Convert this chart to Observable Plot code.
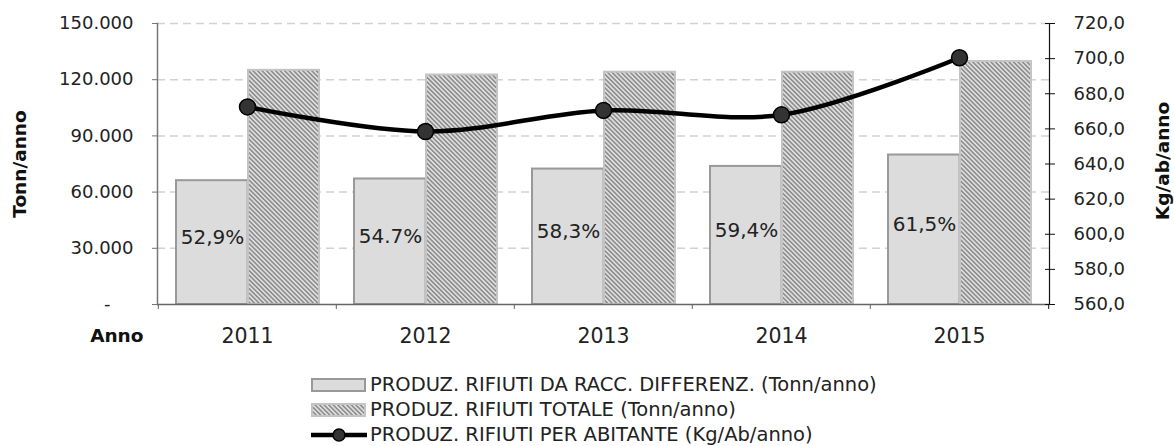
<!DOCTYPE html>
<html>
<head>
<meta charset="utf-8">
<script src="https://cdn.jsdelivr.net/npm/d3@7"></script>
<script src="https://cdn.jsdelivr.net/npm/@observablehq/plot@0.6"></script>
<style>
  html, body { margin: 0; padding: 0; background: #fff; }
  #wrap { position: relative; width: 1174px; height: 446px; font-family: "DejaVu Sans", Verdana, sans-serif; color: #222; }
  #legend { position: absolute; left: 311px; top: 372px; font-size: 19.5px; }
  .row { display: flex; align-items: center; height: 25px; white-space: nowrap; }
  .row svg { display: block; margin-right: 3px; }
</style>
</head>
<body>
<div id="wrap">
  <div id="chart"></div>
  <div id="legend"></div>
</div>
<script>
// ---- data ----
const years = ["2011", "2012", "2013", "2014", "2015"];
const raccDiff = [66100, 67000, 72300, 73700, 79800];          // Tonn/anno
const totale = [125000, 122500, 124000, 124000, 129700];        // Tonn/anno
const perAbitante = [672.5, 658.5, 670.5, 668.0, 700.5];        // Kg/ab/anno
const percentLabels = ["52,9%", "54.7%", "58,3%", "59,4%", "61,5%"];
const leftTicks = [0, 30000, 60000, 90000, 120000, 150000];
const rightTicks = [560, 580, 600, 620, 640, 660, 680, 700, 720];
const legendLabels = [
  "PRODUZ. RIFIUTI DA RACC. DIFFERENZ. (Tonn/anno)",
  "PRODUZ. RIFIUTI TOTALE (Tonn/anno)",
  "PRODUZ. RIFIUTI PER ABITANTE (Kg/Ab/anno)"
];

// secondary axis mapping onto the primary scale
const leftMax = 150000, rMin = 560, rMax = 720;
const toLeft = v => (v - rMin) / (rMax - rMin) * leftMax;
const fromLeft = v => rMin + v / leftMax * (rMax - rMin);

const data = years.map((year, i) => ({
  year, diff: raccDiff[i], tot: totale[i], pa: perAbitante[i], pct: percentLabels[i]
}));

const fmtLeft = d => d === 0 ? "-\u2007\u2007" : d3.format(",")(d).replace(/,/g, ".");
const fmtRight = d => d3.format(".1f")(Math.round(fromLeft(d) * 10) / 10).replace(".", ",");

const font = "DejaVu Sans, Verdana, sans-serif";

const svg = Plot.plot({
  width: 1174,
  height: 345,
  marginLeft: 157,
  marginRight: 125,
  marginTop: 23,
  marginBottom: 41,
  style: { fontFamily: font, fontSize: "18px", color: "#222", background: "white", overflow: "visible" },
  x: { type: "band", domain: years, padding: 0, axis: null },
  y: { domain: [0, leftMax], axis: null },
  marks: [
    Plot.ruleY(leftTicks.filter(d => d > 0), { stroke: "#d2d2d2", strokeWidth: 1.5, strokeDasharray: "8,5" }),
    Plot.barY(data, { x: "year", y: "diff", fill: "#dcdcdc", stroke: "#999", strokeWidth: 2, insetLeft: 18, insetRight: 88.4 }),
    Plot.barY(data, { x: "year", y: "tot", fill: "url(#hatch)", stroke: "#c4c4c4", strokeWidth: 2, insetLeft: 90, insetRight: 17 }),
    Plot.text(data, { x: "year", y: d => d.diff / 2, text: "pct", dx: -35, dy: -5, fontSize: 20, fill: "#222" }),
    Plot.ruleY([0], { stroke: "#666", strokeWidth: 1.5 }),
    Plot.frame({ anchor: "left", stroke: "#777", strokeWidth: 1.5 }),
    Plot.frame({ anchor: "right", stroke: "#111", strokeWidth: 1.2 }),
    Plot.axisY({ anchor: "left", ticks: leftTicks, tickFormat: fmtLeft, tickSize: 5, tickPadding: 19, stroke: "#777", fontSize: 18, label: null }),
    Plot.axisY({ anchor: "right", ticks: rightTicks.map(toLeft), tickFormat: fmtRight, tickSize: 10, dx: -5, tickPadding: 19, stroke: "#111", fontSize: 18, label: null }),
    Plot.axisX({ ticks: years, tickSize: 5, dx: -89.2, fill: "none", stroke: "#666", label: null, tickFormat: () => "" }),
    Plot.axisX({ ticks: ["2015"], tickSize: 5, dx: 89.2, fill: "none", stroke: "#111", label: null, tickFormat: () => "" }),
    Plot.axisX({ ticks: years, tickSize: 0, tickPadding: 24, fontSize: 20.5, label: null }),
    Plot.line(data, { x: "year", y: d => toLeft(d.pa), curve: "catmull-rom", stroke: "#000", strokeWidth: 4.5 }),
    Plot.dot(data, { x: "year", y: d => toLeft(d.pa), r: 8, fill: "#333", stroke: "#000", strokeWidth: 1.5 }),
    Plot.text(["Tonn/anno"], { text: d => d, frameAnchor: "left", textAnchor: "middle", dx: -137, rotate: -90, fontWeight: "bold", fontSize: 18.5, fill: "#111" }),
    Plot.text(["Kg/ab/anno"], { text: d => d, frameAnchor: "right", textAnchor: "middle", dx: 114, dy: -3, rotate: -90, fontWeight: "bold", fontSize: 18.5, fill: "#111" }),
    Plot.text(["Anno"], { text: d => d, frameAnchor: "bottom-left", dx: -14, dy: 37, textAnchor: "end", fontWeight: "bold", fontSize: 18.5, fill: "#111" })
  ]
});

const defs = `<defs>
  <pattern id="hatch" patternUnits="userSpaceOnUse" width="3.2" height="3.2" patternTransform="rotate(-45)">
    <rect x="0" y="0" width="3.2" height="3.2" fill="#e4e4e4"></rect>
    <rect x="0" y="0" width="1.7" height="3.2" fill="#8e8e8e"></rect>
  </pattern>
</defs>`;
svg.insertAdjacentHTML("afterbegin", defs);
document.getElementById("chart").appendChild(svg);

// ---- legend ----
const swatches = [
  `<svg width="56" height="16"><rect x="1" y="2" width="53" height="12" fill="#dcdcdc" stroke="#999" stroke-width="2"/></svg>`,
  `<svg width="56" height="16"><defs><pattern id="hatchL" patternUnits="userSpaceOnUse" width="3.2" height="3.2" patternTransform="rotate(-45)"><rect width="3.2" height="3.2" fill="#e4e4e4"/><rect width="1.7" height="3.2" fill="#8e8e8e"/></pattern></defs><rect x="1" y="2" width="53" height="12" fill="url(#hatchL)" stroke="#c4c4c4" stroke-width="2"/></svg>`,
  `<svg width="56" height="16"><line x1="0" y1="8" x2="56" y2="8" stroke="#000" stroke-width="4.5"/><circle cx="28" cy="8" r="6" fill="#333" stroke="#000" stroke-width="1.5"/></svg>`
];
const legend = document.getElementById("legend");
legendLabels.forEach((label, i) => {
  const row = document.createElement("div");
  row.className = "row";
  row.innerHTML = swatches[i] + `<span>${label}</span>`;
  legend.appendChild(row);
});
</script>
</body>
</html>
